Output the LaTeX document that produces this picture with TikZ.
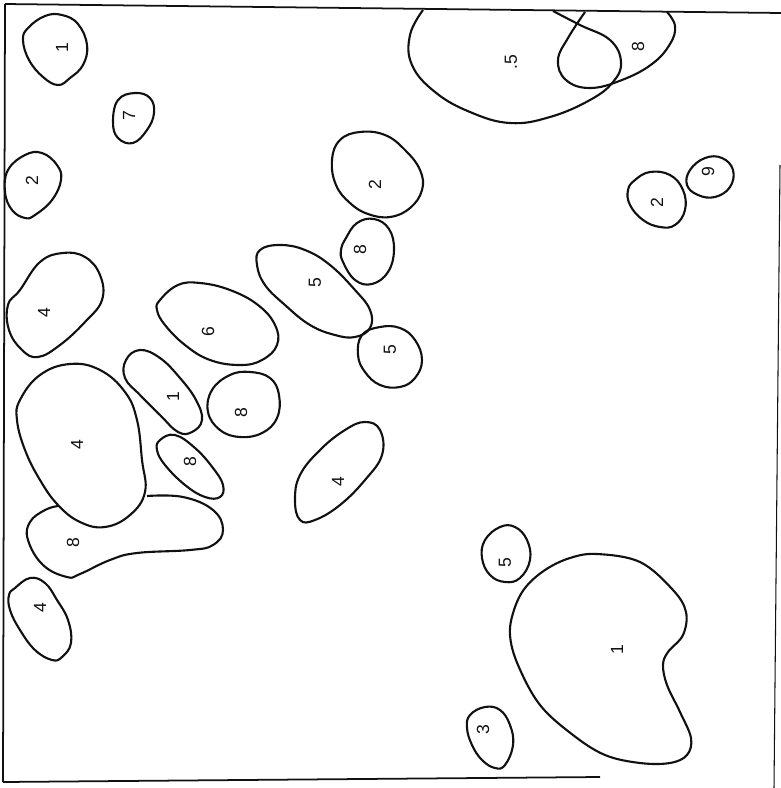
\documentclass[tikz,border=0pt]{standalone}
\usepackage{fontspec}
\setmainfont{Liberation Sans}
\usepackage{xcolor}
\usepackage{tikz}
\definecolor{ink}{HTML}{111111}

\tikzset{
  blob/.style={draw=ink, line width=1.2pt, line join=round},
  tag/.style={font=\normalsize, color=ink, rotate=90, inner sep=0pt},
}

\begin{document}
\begin{tikzpicture}[x=0.02cm, y=-0.02cm]
    \useasboundingbox (0,0) rectangle (781,788);
    % frame, as scanned
    \draw[ink, line width=1pt] (5,4) -- (781,13);
    \draw[ink, line width=1pt] (5,4) -- (3,782);
    \draw[ink, line width=1pt] (3,782) -- (600,777);
    \draw[ink, line width=0.6pt] (780,165) -- (774,788);
    % left column
    \draw[blob] plot[smooth cycle, tension=0.7] coordinates {(28,28) (45,16) (62,15) (78,24) (87,45) (83,65) (70,78) (58,85) (43,77) (29,60) (23,40)};
    \draw[blob] plot[smooth cycle, tension=0.7] coordinates {(118,100) (135,93) (150,98) (154,113) (147,130) (133,143) (118,138) (113,122)};
    \draw[blob] plot[smooth cycle, tension=0.7] coordinates {(8,170) (25,155) (42,153) (57,165) (61,180) (52,200) (35,215) (25,218) (12,210) (5,192)};
    \draw[blob] plot[smooth cycle, tension=0.7] coordinates {(20,290) (40,262) (63,253) (85,257) (100,275) (102,300) (85,322) (60,345) (38,357) (22,350) (9,330) (8,305)};
    \draw[blob] plot[smooth cycle, tension=0.7] coordinates {(20,400) (40,375) (70,364) (100,370) (125,392) (137,420) (142,460) (145,492) (130,515) (105,527) (80,522) (58,505) (40,480) (25,450) (17,420)};
    \draw[blob] plot[smooth, tension=0.7] coordinates {(58,506) (45,510) (30,522) (28,540) (43,565) (67,577) (80,574) (110,560) (137,553) (190,550) (213,545) (223,530) (213,510) (183,497) (147,496)};
    \draw[blob] plot[smooth cycle, tension=0.7] coordinates {(15,588) (30,578) (45,583) (57,600) (68,620) (71,643) (62,657) (52,660) (35,650) (20,630) (10,610) (9,595)};
    % middle cluster
    \draw[blob] plot[smooth cycle, tension=0.7] coordinates {(126,360) (140,350) (160,358) (180,378) (196,400) (202,420) (192,432) (178,432) (160,415) (140,395) (125,378)};
    \draw[blob] plot[smooth cycle, tension=0.7] coordinates {(160,440) (175,435) (195,448) (213,468) (223,485) (220,497) (205,497) (185,485) (165,465) (157,450)};
    \draw[blob] plot[smooth cycle, tension=0.7] coordinates {(160,300) (178,285) (200,283) (230,290) (258,305) (275,325) (277,345) (262,360) (240,365) (210,360) (185,345) (165,325) (157,310)};
    \draw[blob] plot[smooth cycle, tension=0.7] coordinates {(212,390) (230,375) (250,372) (270,378) (279,395) (277,418) (262,433) (240,437) (220,430) (208,412)};
    \draw[blob] plot[smooth cycle, tension=0.7] coordinates {(260,250) (280,245) (305,250) (330,265) (355,290) (370,310) (370,328) (355,337) (335,335) (310,325) (285,305) (265,285) (257,265)};
    \draw[blob] plot[smooth cycle, tension=0.7] coordinates {(346,238) (357,223) (374,219) (389,229) (394,250) (388,272) (372,284) (355,280) (343,262) (341,250)};
    \draw[blob] plot[smooth cycle, tension=0.7] coordinates {(340,140) (360,132) (385,135) (405,150) (420,170) (422,190) (410,208) (390,217) (368,214) (350,203) (336,185) (332,160)};
    \draw[blob] plot[smooth cycle, tension=0.7] coordinates {(362,335) (380,327) (400,328) (415,340) (422,360) (415,378) (400,387) (380,385) (365,372) (358,355)};
    \draw[blob] plot[smooth cycle, tension=0.7] coordinates {(295,500) (300,475) (320,450) (345,430) (365,422) (380,430) (382,455) (365,480) (340,505) (315,520) (300,520)};
    % top right, cut by the frame
    \draw[blob] plot[smooth, tension=0.7] coordinates {(423,10) (410,35) (412,65) (435,92) (470,112) (510,123) (550,117) (590,100) (613,82) (621,62) (610,40) (580,25) (553,11)};
    \draw[blob] plot[smooth, tension=0.7] coordinates {(585,12) (568,38) (558,60) (566,80) (590,88) (622,80) (652,64) (670,44) (675,26) (667,12)};
    \draw[blob] plot[smooth cycle, tension=0.7] coordinates {(635,180) (650,172) (670,175) (683,190) (685,210) (675,225) (660,227) (643,220) (630,205) (628,190)};
    \draw[blob] plot[smooth cycle, tension=0.7] coordinates {(690,170) (705,158) (722,158) (733,170) (730,187) (715,197) (698,195) (687,185)};
    % bottom right
    \draw[blob] plot[smooth cycle, tension=0.7] coordinates {(485,540) (500,527) (515,527) (527,540) (530,560) (520,578) (505,582) (490,575) (482,558)};
    \draw[blob] plot[smooth cycle, tension=0.6] coordinates {(597,554) (640,562) (673,590) (686,612) (683,635) (668,652) (663,665) (667,685) (680,712) (691,738) (687,755) (670,763) (640,763) (605,755) (573,735) (540,705) (518,665) (510,635) (514,610) (525,588) (545,570) (570,558)};
    \draw[blob] plot[smooth cycle, tension=0.7] coordinates {(470,715) (485,707) (500,710) (510,725) (513,745) (505,765) (495,768) (482,760) (472,745) (467,728)};
    % labels
    \node[tag] (oneA) at (62,48) {1};
    \node[tag] (seven) at (129,116) {7};
    \node[tag] (twoA) at (32,181) {2};
    \node[tag] (fourA) at (44,313) {4};
    \node[tag] (fourB) at (77,445) {4};
    \node[tag] (eightA) at (73,543) {8};
    \node[tag] (fourC) at (40,608) {4};
    \node[tag] (oneB) at (173,397) {1};
    \node[tag] (eightB) at (190,462) {8};
    \node[tag] (six) at (208,332) {6};
    \node[tag] (eightC) at (241,413) {8};
    \node[tag] (fiveA) at (315,283) {5};
    \node[tag] (eightD) at (360,250) {8};
    \node[tag] (twoB) at (375,185) {2};
    \node[tag] (fiveB) at (390,350) {5};
    \node[tag] (fourD) at (338,482) {4};
    \node[tag] (fiveC) at (511,62) {.5};
    \node[tag] (eightE) at (638,47) {8};
    \node[tag] (twoC) at (657,203) {2};
    \node[tag] (nine) at (708,172) {9};
    \node[tag] (fiveD) at (505,563) {5};
    \node[tag] (oneC) at (617,650) {1};
    \node[tag] (three) at (483,730) {3};
  \end{tikzpicture}
\end{document}
